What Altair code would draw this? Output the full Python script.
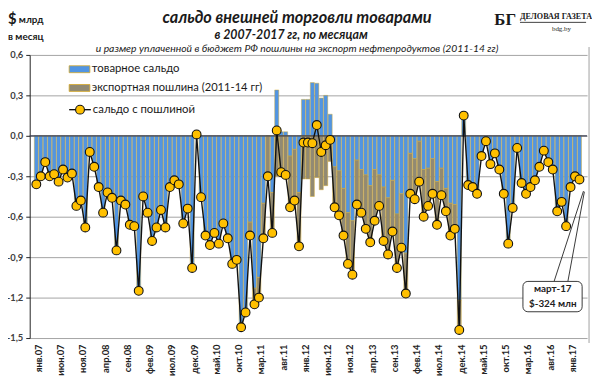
import altair as alt
import pandas as pd

# ---------------- data ----------------
tick_labels = ["янв.07", "июн.07", "ноя.07", "апр.08", "сен.08", "фев.09", "июл.09",
               "дек.09", "май.10", "окт.10", "мар.11", "авг.11", "янв.12", "июн.12",
               "ноя.12", "апр.13", "сен.13", "фев.14", "июл.14", "дек.14", "май.15",
               "окт.15", "мар.16", "авг.16", "янв.17"]

# сальдо с пошлиной, $ млрд в месяц, янв.07 .. мар.17 (123 months)
saldo_2007_2010 = [
    -0.36, -0.30, -0.195, -0.30, -0.285, -0.34, -0.25, -0.31, -0.28, -0.52, -0.48, -0.68,
    -0.12, -0.23, -0.38, -0.57, -0.42, -0.46, -0.85, -0.48, -0.51, -0.66, -0.67, -1.15,
    -0.45, -0.57, -0.78, -0.68, -0.55, -0.68, -0.38, -0.33, -0.36, -0.65, -0.54, -0.98,
    0.01, -0.455, -0.74, -0.81, -0.72, -0.80, -0.65, -0.76, -0.95, -0.92, -1.42, -1.31,
]
saldo_2011_2014 = [
    -0.74, -1.25, -1.20, -0.76, -0.30, -0.72, 0.04, -0.27, -0.29, -0.53, -0.48, -0.82,
    -0.05, -0.05, -0.055, 0.08, -0.12, -0.07, -0.03, -0.53, -0.59, -0.74, -0.95, -1.03,
    -0.51, -0.57, -0.69, -0.79, -0.63, -0.52, -0.78, -0.88, -0.71, -0.98, -0.83, -1.17,
    -0.43, -0.47, -0.34, -0.60, -0.52, -0.43, -0.66, -0.44, -0.56, -0.74, -0.69, -1.44,
]
saldo_2015_2017 = [
    0.15, -0.365, -0.38, -0.43, -0.15, -0.04, -0.21, -0.13, -0.25, -0.43, -0.80, -0.535,
    -0.09, -0.35, -0.43, -0.38, -0.33, -0.23, -0.11, -0.195, -0.25, -0.56, -0.49, -0.67,
    -0.38, -0.30, -0.324,
]
# экспортная пошлина (2011-14 гг), $ млрд в месяц
duty_2011_2014 = [
    -0.10, -0.12, -0.15, -0.26, -0.30, -0.30, -0.30, -0.30, -0.32, -0.38, -0.38, -0.40,
    -0.32, -0.32, -0.45, -0.31, -0.40, -0.37, -0.19, -0.30, -0.33, -0.35, -0.38, -0.40,
    -0.33, -0.32, -0.40, -0.42, -0.38, -0.23, -0.40, -0.42, -0.38, -0.40, -0.40, -0.30,
    -0.30, -0.30, -0.30, -0.35, -0.28, -0.26, -0.32, -0.20, -0.17, -0.24, -0.18, -0.22,
]

saldo = saldo_2007_2010 + saldo_2011_2014 + saldo_2015_2017
duty = [0.0] * len(saldo_2007_2010) + duty_2011_2014 + [0.0] * len(saldo_2015_2017)
goods = [round(s - d, 4) for s, d in zip(saldo, duty)]

rows = []
for i, (s, d, g) in enumerate(zip(saldo, duty, goods)):
    base = g if g < 0 else 0.0
    rows.append({"i": i, "saldo": s, "goods": g, "g0": 0.0,
                 "d0": base, "d1": base + d, "duty": d})
df = pd.DataFrame(rows)
df_duty = df[df["duty"] != 0]

# ---------------- styles ----------------
BLUE = "#5195e3"
GRAY = "#918a74"
EDGE = "#d6a826"
GOLD = "#ffc000"
FONT = "Lato"

xs = alt.Scale(domain=[-0.38, 122.6], nice=False, zero=False)
ys = alt.Scale(domain=[-1.5, 0.6], nice=False, zero=False)

label_js = "[" + ",".join("'%s'" % t for t in tick_labels) + "]"

x_axis = alt.Axis(values=list(range(0, 121, 5)),
                  labelExpr=label_js + "[round(datum.value / 5)]",
                  labelAngle=270, labelAlign="right", labelBaseline="middle",
                  labelFont=FONT, labelFontWeight="bold", labelFontSize=9.5,
                  labelColor="#222222", labelPadding=6, labelOffset=2, ticks=False, domain=False,
                  grid=False, title=None, orient="bottom", labelOverlap=False)
y_axis = alt.Axis(values=[-1.5, -1.2, -0.9, -0.6, -0.3, 0.0, 0.3, 0.6],
                  labelExpr="(datum.value < 0 ? '-' : '') + replace(format(abs(datum.value), '.1f'), '.', ',')",
                  labelFont=FONT, labelFontWeight="bold", labelFontSize=9.5,
                  labelColor="#404040", labelPadding=3, tickSize=4, tickColor="#222222",
                  domainColor="#222222", gridColor="#a3a3a3", gridWidth=1, title=None)


def X(field):
    return alt.X(field, scale=xs, axis=x_axis)


def Y(field):
    return alt.Y(field, scale=ys, axis=y_axis)


base = alt.Chart(df)

goods_bars = base.mark_bar(size=4.1, color=BLUE, stroke=EDGE, strokeWidth=0.45).encode(
    x=X("i:Q"), y=Y("g0:Q"), y2="goods:Q",
)
duty_bars = alt.Chart(df_duty).mark_bar(size=4.1, color=GRAY, stroke=EDGE, strokeWidth=0.45).encode(
    x=X("i:Q"), y=Y("d0:Q"), y2="d1:Q",
)
zero_line = alt.Chart(pd.DataFrame({"z": [0.0]})).mark_rule(color="#3b3f52", strokeWidth=1.2).encode(
    y=Y("z:Q")
)
line = base.mark_line(color="#111111", strokeWidth=1.4).encode(x=X("i:Q"), y=Y("saldo:Q"))
points = base.mark_circle(size=80, color=GOLD, opacity=1, stroke="#111111", strokeWidth=1.1).encode(
    x=X("i:Q"), y=Y("saldo:Q"))

one = pd.DataFrame({"k": [0]})


def txt(text, x, y, size, weight="normal", style="normal", align="left", font=FONT, color="#1a1a1a"):
    return alt.Chart(one).mark_text(text=text, fontSize=size, fontWeight=weight, fontStyle=style,
                                    align=align, baseline="middle", font=font, color=color).encode(
        x=alt.value(x), y=alt.value(y))


def rect(x, x2, y, y2, fill, stroke=None, sw=0.0):
    kw = dict(fill=fill)
    if stroke:
        kw.update(stroke=stroke, strokeWidth=sw)
    return alt.Chart(one).mark_rect(**kw).encode(
        x=alt.value(x), x2=alt.value(x2), y=alt.value(y), y2=alt.value(y2))


def seg(x, x2, y, y2, color="#111111", sw=1.0):
    return alt.Chart(one).mark_rule(color=color, strokeWidth=sw).encode(
        x=alt.value(x), x2=alt.value(x2), y=alt.value(y), y2=alt.value(y2))


# legend
legend = [
    rect(40, 61, 11, 18, BLUE, EDGE, 0.8),
    txt("товарное сальдо", 63, 14.5, 11.5),
    rect(40, 61, 30, 37, GRAY, EDGE, 0.8),
    txt("экспортная пошлина (2011-14 гг)", 63, 33.5, 11.3),
    seg(40, 62, 55.5, 55.5, sw=1.4),
    alt.Chart(one).mark_circle(size=80, color=GOLD, opacity=1, stroke="#111111", strokeWidth=1.1).encode(
        x=alt.value(51), y=alt.value(55.5)),
    txt("сальдо с пошлиной", 64, 55.5, 11.5),
]

# titles and labels
titles = [
    txt("сальдо внешней торговли товарами", 271, -37, 16.5, "bold", "italic", "center"),
    txt("в 2007-2017 гг, по месяцам", 265, -20, 12.5, "bold", "italic", "center"),
    txt("и размер уплаченной  в бюджет РФ пошлины на экспорт нефтепродуктов  (2011-14 гг)",
        271, -6, 10.5, "normal", "italic", "center"),
    txt("$", -22, -36, 15, "bold"),
    txt("млрд", -11, -35, 10, "bold"),
    txt("в месяц", -22, -18, 10, "bold"),
    txt("БГ", 471, -35, 17, "bold", font="Liberation Serif"),
    txt("ДЕЛОВАЯ ГАЗЕТА", 497, -38, 8.2, "bold", font="Liberation Serif"),
    seg(497, 564, -33, -33, sw=0.8),
    txt("bdg.by", 539, -26, 7, align="center", font="Liberation Serif"),
    seg(567, 567, -8, 292, color="#a0a0a0", sw=1),
]

# callout for the last point (март-17)
call_df = pd.DataFrame({"x": [116.3, 119.4], "y": [-1.08, -1.08],
                        "x2": [122.9, 123.1], "y2": [-0.41, -0.415]})
pointer = alt.Chart(call_df).mark_rule(color="#222222", strokeWidth=0.9).encode(
    x=X("x:Q"), y=Y("y:Q"), x2="x2:Q", y2="y2:Q")
box_df = pd.DataFrame({"x": [109.3], "x2": [122.6], "y": [-1.08], "y2": [-1.305]})
box = alt.Chart(box_df).mark_rect(fill="white", stroke="#222222", strokeWidth=0.9, cornerRadius=5).encode(
    x=X("x:Q"), x2="x2:Q", y=Y("y:Q"), y2="y2:Q")
call_txt_df = pd.DataFrame({"x": [116.0, 116.0], "y": [-1.14, -1.25], "t": ["март-17", "$-324 млн"]})
call_txt = alt.Chart(call_txt_df).mark_text(font=FONT, fontSize=10, fontWeight="bold", color="#222222",
                                            align="center", baseline="middle").encode(
    x=X("x:Q"), y=Y("y:Q"), text="t:N")

chart = alt.layer(
    goods_bars, duty_bars, zero_line, line, points, pointer, box, call_txt, *legend, *titles
).properties(
    width=565, height=287,
    padding={"left": 22, "top": 45, "right": 5, "bottom": 42},
    autosize=alt.AutoSizeParams(type="none"),
    background="white",
).configure_view(stroke=None)

chart.save("out.html", embed_options={"renderer": "svg", "actions": False})
